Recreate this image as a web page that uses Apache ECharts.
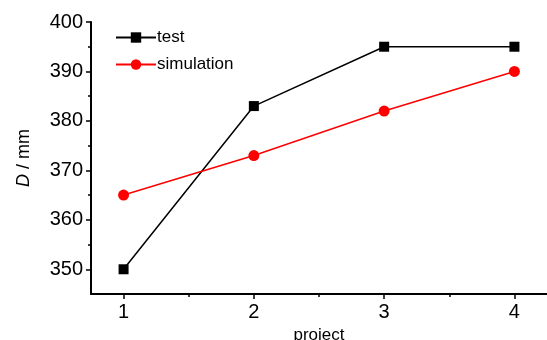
<!DOCTYPE html>
<html><head><meta charset="utf-8">
<script src="https://cdn.jsdelivr.net/npm/echarts@6/dist/echarts.min.js"></script>
<style>html,body{margin:0;padding:0;background:#fff}#c{width:547px;height:340px}</style>
</head><body><div id="c"></div>
<script>
const projects = [1, 2, 3, 4];
const testValues = [350, 383, 395, 395];
const simulationValues = [365, 373, 382, 390];
const xMajorTicks = [1, 2, 3, 4];
const xMinorTicks = [1.5, 2.5, 3.5];
const yMajorTicks = [350, 360, 370, 380, 390, 400];
const yMinorTicks = [355, 365, 375, 385, 395];

const font = 'Liberation Sans, Arial, sans-serif';
const narrow = '"Liberation Sans Narrow", "Arial Narrow", Liberation Sans, sans-serif';
const chart = echarts.init(document.getElementById('c'));
const axisLine = {show: true, onZero: false, lineStyle: {color: '#000', width: 2}};
chart.setOption({
  backgroundColor: '#fff',
  animation: false,
  grid: {left: 91, right: 0, top: 22, bottom: 46, containLabel: false, outerBoundsMode: 'none'},
  legend: {
    left: 110, top: 24, orient: 'vertical', itemWidth: 40, itemHeight: 13, itemGap: 10,
    textStyle: {fontFamily: font, fontSize: 17, color: '#000', padding: [0,0,0,-4]},
    data: ['test', 'simulation']
  },
  xAxis: [{
    type: 'value', min: 0.75, max: 4.25,
    axisLine: axisLine,
    splitLine: {show: false},
    axisTick: {show: true, inside: false, length: 5, lineStyle: {width: 1.5, color: '#000'}, customValues: xMajorTicks},
    axisLabel: {customValues: xMajorTicks, fontFamily: narrow, fontSize: 20, color: '#000', margin: 8},
    name: 'project', nameLocation: 'middle', nameGap: 29,
    nameTextStyle: {fontFamily: font, fontSize: 17, color: '#000', verticalAlign: 'top'}
  }, {
    type: 'value', min: 0.75, max: 4.25, position: 'bottom',
    axisLine: {show: false}, splitLine: {show: false},
    axisTick: {show: true, length: 3, lineStyle: {width: 1.5, color: '#000'}, customValues: xMinorTicks},
    axisLabel: {show: false}
  }],
  yAxis: [{
    type: 'value', min: 345, max: 400,
    axisLine: axisLine,
    splitLine: {show: false},
    axisTick: {show: true, length: 5, lineStyle: {width: 1.5, color: '#000'}, customValues: yMajorTicks},
    axisLabel: {customValues: yMajorTicks, fontFamily: narrow, fontSize: 20, color: '#000', margin: 8},
    name: '{i|D} / mm', nameLocation: 'middle', nameGap: 58, nameRotate: 90,
    nameTextStyle: {fontFamily: font, fontSize: 18, color: '#000',
      rich: {i: {fontStyle: 'italic', fontFamily: font, fontSize: 18, color: '#000'}}}
  }, {
    type: 'value', min: 345, max: 400, position: 'left',
    axisLine: {show: false}, splitLine: {show: false},
    axisTick: {show: true, length: 3, lineStyle: {width: 1.5, color: '#000'}, customValues: yMinorTicks},
    axisLabel: {show: false}
  }],
  series: [{
    name: 'test', type: 'line',
    data: projects.map((p, i) => [p, testValues[i]]),
    symbol: 'rect', symbolSize: 10,
    itemStyle: {color: '#000'}, lineStyle: {color: '#000', width: 1.5}
  }, {
    name: 'simulation', type: 'line',
    data: projects.map((p, i) => [p, simulationValues[i]]),
    symbol: 'circle', symbolSize: 11,
    itemStyle: {color: '#f00'}, lineStyle: {color: '#f00', width: 1.5}
  }]
});
</script></body></html>
